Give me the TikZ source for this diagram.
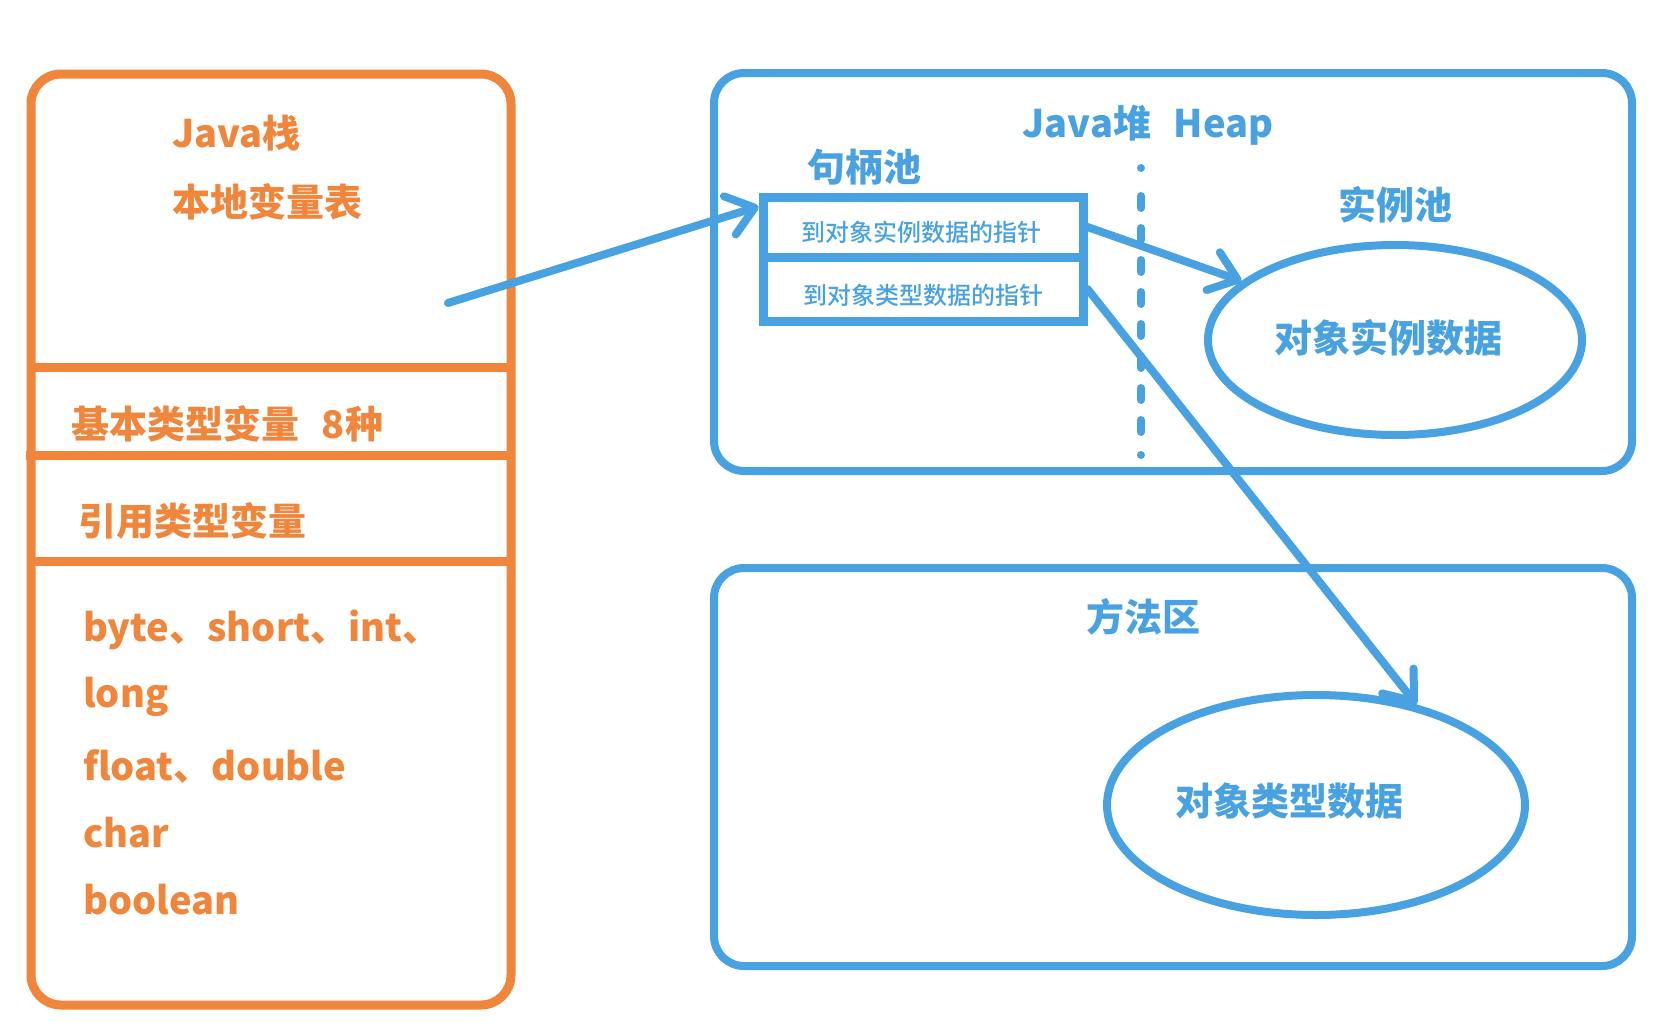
\documentclass[tikz,border=0pt]{standalone}
\usepackage{fontspec}
\setmainfont{Noto Sans CJK SC}
\newfontfamily\medfont{Noto Sans CJK SC Medium}
\usetikzlibrary{arrows.meta,shapes.geometric}
\definecolor{org}{RGB}{240,133,60}
\definecolor{blu}{RGB}{72,161,224}
\begin{document}
\begin{tikzpicture}[x=1pt,y=-1pt,
  obox/.style={draw=org, line width=9pt, rounded corners=30pt, inner sep=0pt},
  bbox/.style={draw=blu, line width=8pt, rounded corners=30pt, inner sep=0pt},
  orgline/.style={draw=org, line width=9pt},
  ptrbox/.style={draw=blu, line width=9pt, inner sep=0pt, minimum width=320pt},
  ptrtxt/.style={text=blu, font=\medfont\fontsize{24}{24}\selectfont, inner sep=0pt},
  oval/.style={draw=blu, line width=8pt, ellipse, inner sep=0pt},
  otxt/.style={text=org, font=\bfseries\fontsize{38}{38}\selectfont, inner sep=0pt, anchor=west},
  btxt/.style={text=blu, font=\bfseries\fontsize{38}{38}\selectfont, inner sep=0pt},
  barrow/.style={draw=blu, line width=8pt, line cap=round,
                 -{Straight Barb[length=26pt,width=40pt,round]}}]
\useasboundingbox (0,0) rectangle (1658,1036);

% Java stack
\node[obox, minimum width=480pt, minimum height=931pt] (stack) at (271,539.5) {};
\draw[orgline] (31,367) -- (511,367);
\draw[orgline] (26,455) -- (511,455);
\draw[orgline] (31,561) -- (511,561);
\node[otxt] (jstack) at (172,133) {Java栈};
\node[otxt] (local) at (172,202) {本地变量表};
\node[otxt] (prim) at (71,424) {基本类型变量\hspace{0.6em}8种};
\node[otxt] (refv) at (78,521) {引用类型变量};
\node[otxt] (t1) at (83,630) {byte、short、int、};
\node[otxt] (t2) at (83,697) {long};
\node[otxt] (t3) at (83,766) {float、double};
\node[otxt] (t4) at (83,833) {char};
\node[otxt] (t5) at (83,900) {boolean};

% Heap
\node[bbox, minimum width=918pt, minimum height=398pt] (heap) at (1173,272) {};
\node[btxt] (heaplbl) at (1148,125) {Java堆\hspace{0.6em}Heap};
\node[btxt] (handle) at (864,167) {句柄池};
\node[ptrbox, minimum height=60pt] (ptr1) at (923,227) {};
\node[ptrbox, minimum height=64pt] (ptr2) at (923,289) {};
\node[ptrtxt] (ptr1lbl) at (921,232) {到对象实例数据的指针};
\node[ptrtxt] (ptr2lbl) at (923,295) {到对象类型数据的指针};
\coordinate (dtop) at (1141,168);
\coordinate (dbot) at (1141,455);
\draw[draw=blu, line width=8pt, line cap=round,
      dash pattern=on 0pt off 28pt on 12pt off 20pt on 12pt off 20pt on 12pt off 20pt on 12pt off 20pt on 12pt off 20pt on 12pt off 20pt on 12pt off 20pt on 12pt off 23pt on 0pt off 50pt] (dtop) -- (dbot);
\node[btxt] (instpool) at (1395,205) {实例池};
\node[oval, minimum width=374pt, minimum height=190pt] (inst) at (1395,340) {};
\node[btxt] (instlbl) at (1388,338) {对象实例数据};

% Method area
\node[bbox, minimum width=918pt, minimum height=398pt] (method) at (1173,767) {};
\node[btxt] (methodlbl) at (1143,617) {方法区};
\node[oval, minimum width=418pt, minimum height=220pt] (typ) at (1316,805) {};
\node[btxt] (typlbl) at (1289,801) {对象类型数据};

% arrows
\coordinate (refstart) at (448,303);
\draw[barrow] (refstart) -- ([yshift=-14pt]ptr1.north west);
\draw[barrow] (ptr1.east) -- (inst.159);
\draw[barrow] (ptr2.east) -- (typ.45);
\end{tikzpicture}
\end{document}
